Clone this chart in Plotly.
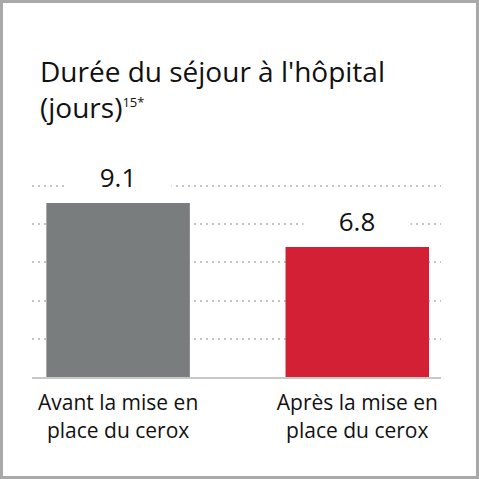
import plotly.graph_objects as go

categories = ["Avant la mise en<br>place du cerox", "Après la mise en<br>place du cerox"]
values = [9.1, 6.8]
value_labels = ["9.1", "6.8"]
bar_colors = ["#7a7d7e", "#d32034"]

W, H = 479, 479
ML, MR, MT, MB = 32, 38, 182, 102
pw, ph = W - ML - MR, H - MT - MB

fig = go.Figure(
    go.Bar(
        x=[0, 1],
        y=values,
        width=0.6,
        marker=dict(color=bar_colors, line=dict(width=0)),
        hoverinfo="skip",
    )
)

# value labels on white boxes so they break the dotted grid
for i, (v, t) in enumerate(zip(values, value_labels)):
    fig.add_annotation(
        x=i, y=v, text=t, showarrow=False,
        yanchor="bottom", yshift=6, width=104,
        bgcolor="white",
        font=dict(family="Open Sans", size=26, color="#111111"),
    )

# grey frame around the whole card
fig.add_shape(
    type="rect", xref="paper", yref="paper",
    x0=(1.5 - ML) / pw, x1=(W - 1.5 - ML) / pw,
    y0=(MT + ph - (H - 1.5)) / ph, y1=(MT + ph - 1.5) / ph,
    line=dict(color="#a9a9a9", width=3),
)

fig.update_layout(
    width=W, height=H,
    margin=dict(l=ML, r=MR, t=MT, b=MB),
    paper_bgcolor="white", plot_bgcolor="white",
    showlegend=False,
    font=dict(family="Open Sans", color="#111111"),
    title=dict(
        text="Durée du séjour à l'hôpital<br>(jours)<sup><span style='font-size:13px'>15*</span></sup>",
        xref="container", yref="container",
        x=40 / W, xanchor="left",
        y=1 - 82 / H, yanchor="top",
        font=dict(family="Open Sans", size=28, color="#111111"),
    ),
    xaxis=dict(
        range=[-0.36, 1.35],
        tickmode="array", tickvals=[0, 1], ticktext=categories,
        tickfont=dict(family="Open Sans", size=21, color="#111111"),
        showgrid=False, zeroline=False,
        showline=True, linecolor="#c8c8c8", linewidth=2,
        ticks="", ticklabelstandoff=6,
    ),
    yaxis=dict(
        range=[0, 10.2], dtick=2, tick0=0,
        showticklabels=False, zeroline=False,
        showgrid=True, gridcolor="#c4c4c4", gridwidth=2, griddash="2px,4px",
    ),
)

fig.write_html("out.html", config={"displayModeBar": False},
               post_script="document.body.style.margin='0';")
